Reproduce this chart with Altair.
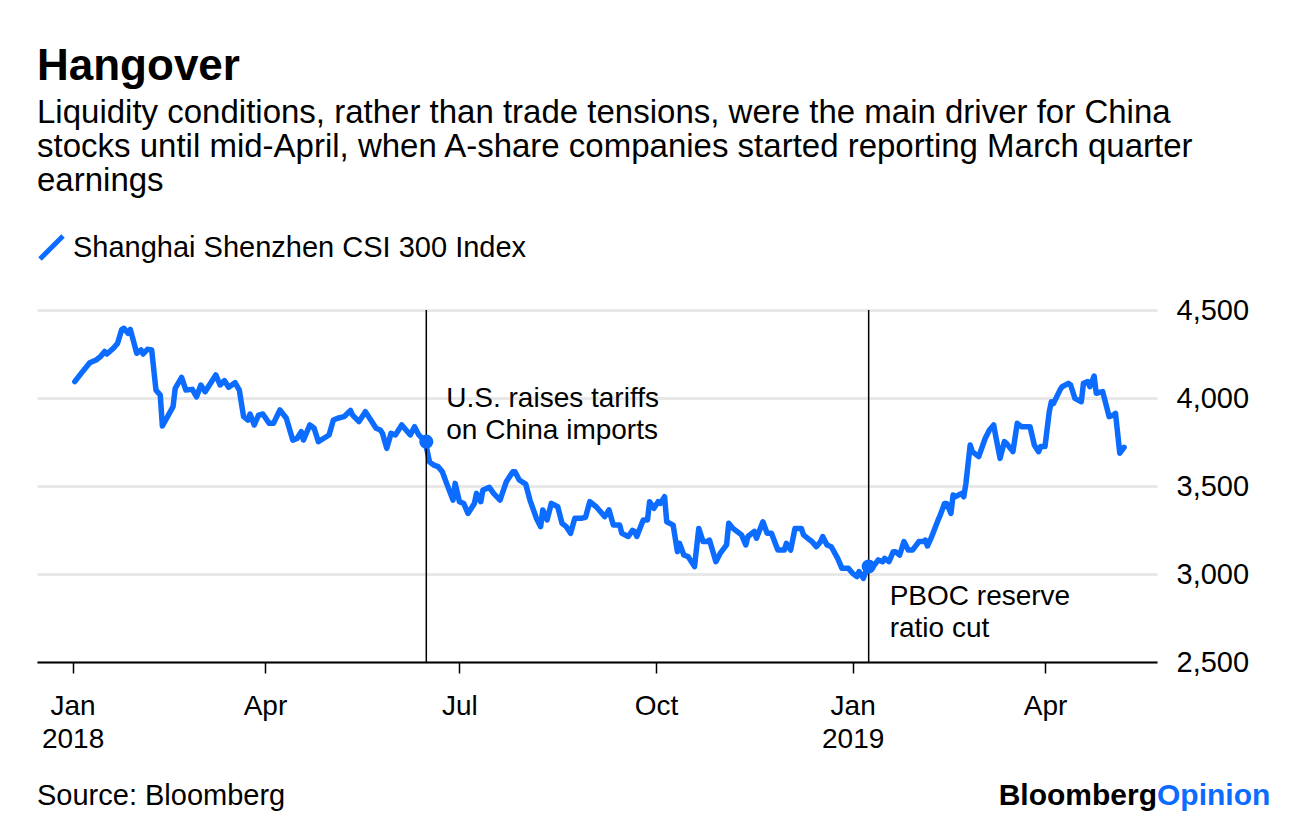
import altair as alt
import pandas as pd

# ---- data (days since 2018-01-01, index level) ----
day_offsets = [
    1, 4, 8, 11, 13, 15, 16, 19, 21, 23, 24, 26, 27, 30, 32, 33, 35, 37, 39, 41,
    42, 47, 48, 51, 53, 56, 58, 60, 62, 67, 69, 71, 73, 76, 78, 80, 82, 83, 85, 87,
    89, 92, 94, 97, 100, 103, 105, 107, 108, 111, 113, 115, 117, 120, 122, 124, 127, 130, 131, 134,
    137, 139, 142, 144, 145, 147, 149, 151, 154, 156, 158, 160, 162, 165, 167, 169, 171, 173, 175, 178,
    179, 181, 183, 185, 188, 189, 191, 192, 195, 197, 200, 203, 206, 207, 209, 212, 214, 217, 219, 220,
    222, 224, 227, 229, 231, 233, 235, 238, 240, 242, 245, 249, 251, 253, 256, 257, 260, 262, 263, 264,
    267, 269, 270, 272, 274, 275, 277, 278, 281, 283, 284, 286, 288, 291, 293, 295, 297, 298, 301, 303,
    306, 307, 309, 313, 315, 316, 319, 320, 323, 325, 327, 330, 333, 334, 336, 338, 341, 342, 345, 346,
    348, 350, 351, 353, 355, 358, 360, 363, 365, 367, 368, 370, 372, 374, 377, 379, 380, 382, 384, 385,
    387, 389, 391, 393, 396, 398, 399, 400, 402, 405, 406, 408, 409, 411, 412, 413, 416, 417, 418, 420,
    421, 424, 427, 429, 431, 432, 434, 436, 437, 440, 442, 444, 448, 450, 452, 453, 455, 457, 458, 459,
    462, 463, 466, 467, 469, 472, 473, 475, 476, 478, 479, 482, 483, 485, 487, 488, 490, 492,
]
index_values = [
    4093, 4140, 4200, 4216, 4235, 4264, 4250, 4282, 4310, 4390, 4396, 4367, 4390, 4254, 4273, 4250, 4277, 4273, 4045, 4017,
    3841, 3951, 4055, 4117, 4045, 4049, 4007, 4074, 4036, 4131, 4074, 4099, 4061, 4087, 4045, 3894, 3875, 3909, 3847, 3903,
    3909, 3856, 3856, 3932, 3885, 3761, 3770, 3809, 3761, 3847, 3828, 3752, 3767, 3790, 3875, 3885, 3894, 3929, 3903, 3866,
    3922, 3885, 3828, 3818, 3799, 3714, 3799, 3790, 3847, 3818, 3790, 3837, 3790, 3752, 3638, 3619, 3610, 3581, 3515, 3420,
    3515, 3411, 3401, 3344, 3401, 3458, 3411, 3477, 3492, 3458, 3420, 3526, 3581, 3581, 3534, 3511, 3420, 3317, 3269, 3364,
    3307, 3401, 3382, 3288, 3269, 3231, 3317, 3317, 3322, 3411, 3382, 3326, 3364, 3278, 3278, 3231, 3213, 3248, 3242, 3213,
    3307, 3307, 3411, 3373, 3411, 3401, 3439, 3297, 3278, 3127, 3174, 3108, 3099, 3042, 3259, 3184, 3184, 3193, 3070, 3117,
    3165, 3288, 3259, 3222, 3165, 3213, 3242, 3203, 3297, 3231, 3231, 3136, 3136, 3174, 3136, 3259, 3259, 3222, 3193, 3184,
    3155, 3184, 3213, 3165, 3155, 3089, 3032, 3032, 3004, 2985, 3014, 2975, 3042, 3032, 3080, 3070, 3089, 3070, 3127, 3127,
    3108, 3184, 3136, 3136, 3184, 3184, 3193, 3159, 3213, 3307, 3335, 3401, 3401, 3344, 3449, 3439, 3458, 3439, 3515, 3733,
    3695, 3667, 3770, 3818, 3847, 3780, 3657, 3752, 3742, 3695, 3856, 3837, 3837, 3733, 3695, 3724, 3724, 3922, 3979, 3970,
    4045, 4064, 4083, 4074, 3998, 3979, 4083, 4093, 4064, 4125, 4027, 4036, 3989, 3894, 3903, 3913, 3686, 3720,
]
series_name = "Shanghai Shenzhen CSI 300 Index"

event_dates = ["2018-06-15T12:00:00Z", "2019-01-08T12:00:00Z"]
event_values = [3752, 3042]
event_labels = ["U.S. raises tariffs\non China imports", "PBOC reserve\nratio cut"]

y_ticks = [2500, 3000, 3500, 4000, 4500]

title_text = "Hangover"
subtitle_lines = [
    "Liquidity conditions, rather than trade tensions, were the main driver for China",
    "stocks until mid-April, when A-share companies started reporting March quarter",
    "earnings",
]
source_text = "Source: Bloomberg"

# ---- build tables ----
start = pd.Timestamp("2018-01-01")
dates = [(start + pd.Timedelta(days=d)).strftime("%Y-%m-%dT00:00:00Z") for d in day_offsets]
df = pd.DataFrame({"date": dates, "value": index_values, "series": series_name})
events = pd.DataFrame({"date": event_dates, "value": event_values, "label": event_labels})

BLUE = "#0b6cff"
FONT = "Liberation Sans"
W, H = 1120, 352

x_scale = alt.Scale(
    type="utc",
    domain=[
        alt.DateTime(year=2017, month=12, date=15, hours=8, utc=True),
        alt.DateTime(year=2019, month=5, date=23, hours=10, utc=True),
    ],
)
tick_dates = [
    alt.DateTime(year=2018, month=1, date=1, utc=True),
    alt.DateTime(year=2018, month=4, date=1, utc=True),
    alt.DateTime(year=2018, month=7, date=1, utc=True),
    alt.DateTime(year=2018, month=10, date=1, utc=True),
    alt.DateTime(year=2019, month=1, date=1, utc=True),
    alt.DateTime(year=2019, month=4, date=1, utc=True),
]
x_axis = alt.Axis(
    values=tick_dates,
    labelExpr="utcFormat(datum.value, '%m') == '01' ? [utcFormat(datum.value, '%b'), utcFormat(datum.value, '%Y')] : utcFormat(datum.value, '%b')",
    title=None,
    grid=False,
    domain=True,
    domainColor="#000000",
    domainWidth=2,
    ticks=True,
    tickColor="#000000",
    tickWidth=1.5,
    tickSize=11,
    labelFontSize=28,
    labelFont=FONT,
    labelColor="#000000",
    labelPadding=19,
    labelLineHeight=33,
    labelFlush=False,
    labelOverlap=False,
    zindex=1,
)
y_axis = alt.Axis(
    orient="right",
    values=y_ticks,
    format=",.0f",
    title=None,
    grid=True,
    gridColor="#e8e8e8",
    gridWidth=3,
    domain=False,
    ticks=False,
    labelFontSize=29,
    labelFont=FONT,
    labelColor="#000000",
    labelPadding=19,
    labelAlign="left",
)
y_scale = alt.Scale(domain=[2500, 4500], nice=False, zero=False)

line = alt.Chart(df).mark_line(strokeWidth=5.5, strokeJoin="round", strokeCap="round").encode(
    x=alt.X("date:T", scale=x_scale, axis=x_axis),
    y=alt.Y("value:Q", scale=y_scale, axis=y_axis),
    color=alt.Color(
        "series:N",
        scale=alt.Scale(range=[BLUE]),
        legend=alt.Legend(
            title=None,
            orient="none",
            legendX=0,
            legendY=-77,
            symbolType="M-1,1L1,-1",
            symbolSize=529,
            symbolStrokeWidth=5,
            labelFontSize=29,
            labelFont=FONT,
            labelColor="#000000",
            labelOffset=7,
            labelLimit=0,
            padding=0,
        ),
    ),
)

rules = alt.Chart(events).mark_rule(color="#000000", strokeWidth=1.5).encode(x="date:T")
dots = alt.Chart(events).mark_circle(size=200, color=BLUE, opacity=1).encode(x="date:T", y="value:Q")

ann1 = alt.Chart(events.iloc[[0]]).mark_text(
    align="left", baseline="alphabetic", dx=20, fontSize=28, font=FONT, color="#000000",
    lineBreak="\n", lineHeight=32,
).encode(x="date:T", y=alt.value(97), text="label:N")
ann2 = alt.Chart(events.iloc[[1]]).mark_text(
    align="left", baseline="alphabetic", dx=21, fontSize=28, font=FONT, color="#000000",
    lineBreak="\n", lineHeight=32,
).encode(x="date:T", y=alt.value(295), text="label:N")


def label(text, x, y, size, weight="normal", color="#000000", align="left"):
    return alt.Chart(pd.DataFrame({"t": [text]})).mark_text(
        align=align, baseline="alphabetic", fontSize=size, font=FONT, fontWeight=weight, color=color
    ).encode(x=alt.value(x), y=alt.value(y), text="t:N")


title = label(title_text, 0, -230, 44, weight="bold")
subs = [label(s, 0, -187 + 34 * i, 33) for i, s in enumerate(subtitle_lines)]
source = label(source_text, 0, 495, 29)
logo1 = label("Bloomberg", W, 495, 30, weight="bold", align="right")
logo2 = label("Opinion", W, 495, 30, weight="bold", color=BLUE)

chart = alt.layer(line, rules, dots, ann1, ann2, title, *subs, source, logo1, logo2).properties(
    width=W,
    height=H,
    padding={"left": 37, "top": 310, "right": 1296 - 37 - W, "bottom": 826 - 310 - H},
    autosize=alt.AutoSizeParams(type="none"),
    background="#ffffff",
).configure_view(stroke=None)

chart.save("out.html", embed_options={"renderer": "svg", "actions": False})
